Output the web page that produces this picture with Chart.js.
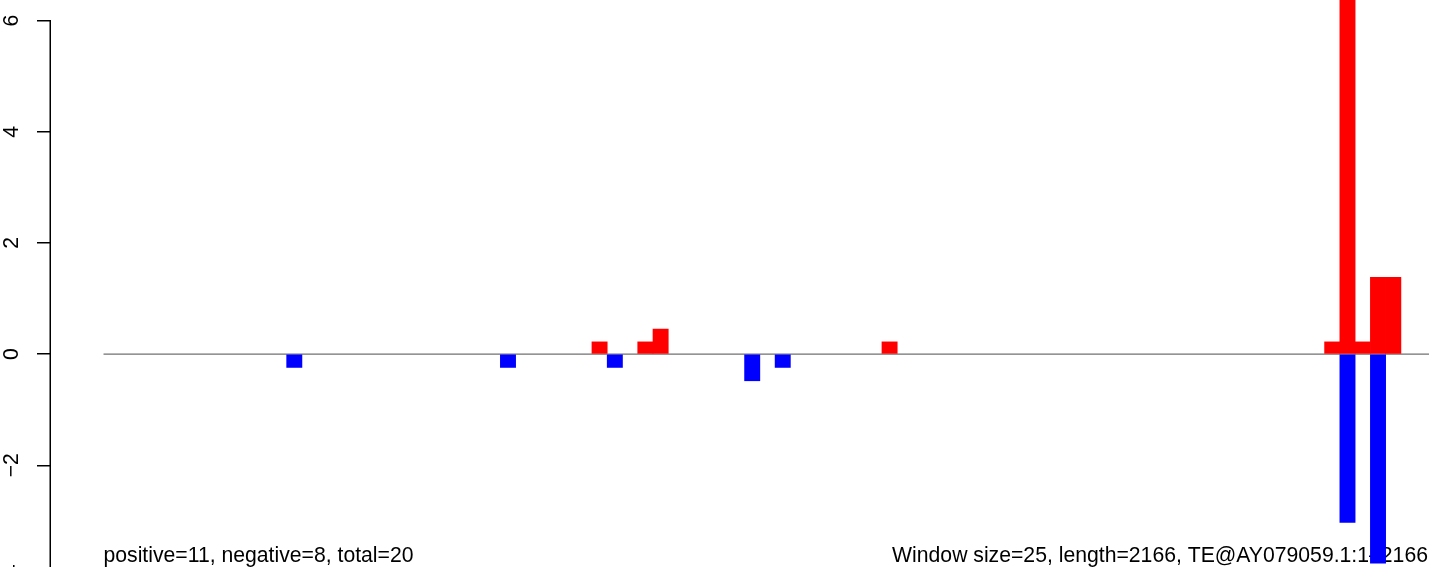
<!DOCTYPE html>
<html>
<head>
<meta charset="utf-8">
<script src="https://cdn.jsdelivr.net/npm/chart.js@4.4.1/dist/chart.umd.min.js"></script>
<style>
  html, body { margin: 0; padding: 0; background: #fff; }
  canvas { display: block; }
</style>
</head>
<body>
<canvas id="grafico" width="1429" height="567"></canvas>
<script>
// ventanas de 25 pb a lo largo de la secuencia
const windowSize = 25;
const seqLength = 2166;
const xLimits = [-86, 2171];
const yLimits = [-3.83, 6.37];
const yTicks = [-4, -2, 0, 2, 4, 6];

// ventanas con valores positivos (rojo) y negativos (azul)
const posWindows = [32, 35, 36, 51, 80, 81, 82, 83, 84];
const posValues = [0.22, 0.22, 0.45, 0.22, 0.22, 7.6, 0.22, 1.38, 1.38];
const negWindows = [12, 26, 33, 42, 44, 81, 83];
const negValues = [-0.24, -0.24, -0.24, -0.48, -0.24, -3.03, -3.76];

const baseline = [0, 2260];
const leftNote = "positive=11, negative=8, total=20";
const rightNote = "Window size=25, length=2166, TE@AY079059.1:1\u20132166";

const fuente = "'Liberation Sans', Arial, Helvetica, sans-serif";

function toPoints(ventanas, valores) {
  return ventanas.map((w, i) => ({ x: w * windowSize + windowSize / 2, y: valores[i] }));
}

const extras = {
  id: "extras",
  beforeDatasetsDraw(chart) {
    const ctx = chart.ctx;
    const xs = chart.scales.x;
    ctx.save();
    ctx.font = "21.2px " + fuente;
    ctx.fillStyle = "#000";
    ctx.textBaseline = "alphabetic";
    ctx.textAlign = "left";
    ctx.fillText(leftNote, xs.getPixelForValue(0), 562);
    ctx.textAlign = "right";
    ctx.fillText(rightNote, xs.getPixelForValue(seqLength) + 2, 562);
    ctx.restore();
  },
  afterDraw(chart) {
    // linea del eje y, de la primera a la ultima marca
    const ctx = chart.ctx;
    const ys = chart.scales.y;
    const x = ys.right - 0.75;
    ctx.save();
    ctx.strokeStyle = "#000";
    ctx.lineWidth = 1.5;
    ctx.beginPath();
    ctx.moveTo(x, ys.getPixelForValue(yTicks[yTicks.length - 1]));
    ctx.lineTo(x, ys.getPixelForValue(yTicks[0]));
    ctx.stroke();
    ctx.restore();
  }
};

new Chart(document.getElementById("grafico").getContext("2d"), {
  type: "bar",
  data: {
    datasets: [
      {
        label: "positive",
        data: toPoints(posWindows, posValues),
        backgroundColor: "#ff0000",
        borderWidth: 0,
        grouped: false,
        barPercentage: 1,
        categoryPercentage: 1,
        order: 1
      },
      {
        label: "negative",
        data: toPoints(negWindows, negValues),
        backgroundColor: "#0000ff",
        borderWidth: 0,
        grouped: false,
        barPercentage: 1,
        categoryPercentage: 1,
        order: 1
      },
      {
        type: "line",
        label: "baseline",
        data: baseline.map((b) => ({ x: b, y: 0 })),
        borderColor: "#707070",
        borderWidth: 1.2,
        pointRadius: 0,
        order: 3
      }
    ]
  },
  options: {
    responsive: false,
    animation: false,
    devicePixelRatio: 1,
    layout: { padding: 0 },
    plugins: {
      legend: { display: false },
      tooltip: { enabled: false },
      title: { display: false }
    },
    scales: {
      x: {
        type: "linear",
        display: false,
        offset: false,
        min: xLimits[0],
        max: xLimits[1]
      },
      y: {
        type: "linear",
        position: "left",
        min: yLimits[0],
        max: yLimits[1],
        afterBuildTicks: (scale) => {
          scale.ticks = yTicks.map((v) => ({ value: v }));
        },
        afterFit: (scale) => {
          scale.width = 51;
          scale.paddingTop = 0;
          scale.paddingBottom = 0;
        },
        border: { display: false },
        grid: {
          drawOnChartArea: false,
          drawTicks: true,
          tickLength: 14,
          color: "#000",
          lineWidth: 1.5
        },
        ticks: {
          minRotation: 90,
          maxRotation: 90,
          crossAlign: "center",
          padding: 12.5,
          color: "#000",
          font: { family: fuente, size: 21.2 },
          callback: (v) => (v < 0 ? "\u2212" + Math.abs(v) : String(v))
        }
      }
    }
  },
  plugins: [extras]
});
</script>
</body>
</html>
